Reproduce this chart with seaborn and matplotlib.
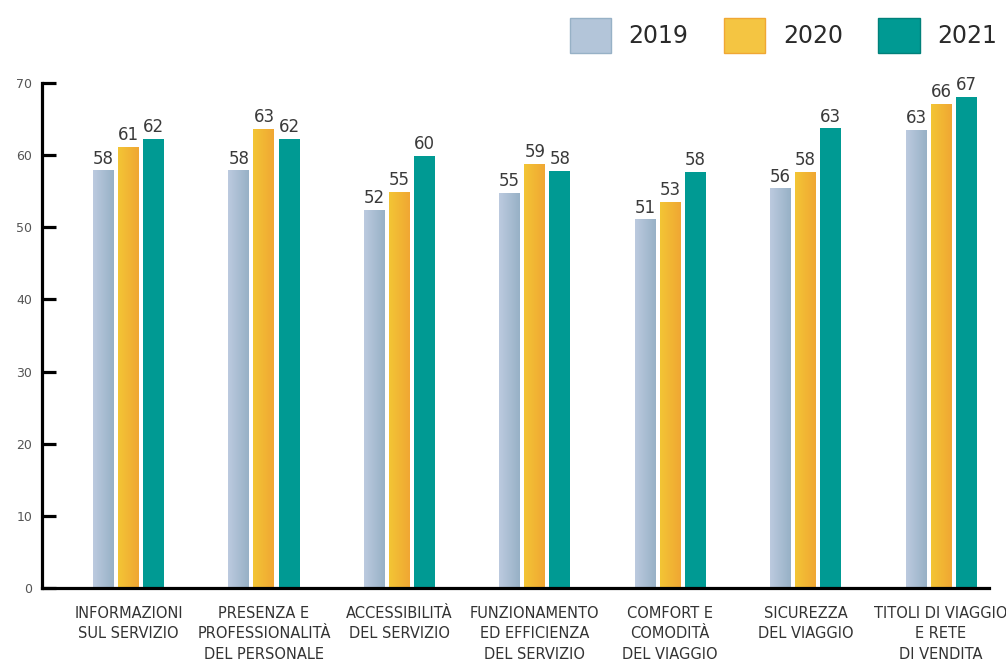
import numpy as np
import pandas as pd
import matplotlib.pyplot as plt
import seaborn as sns
from matplotlib.patches import Patch
from matplotlib.colors import LinearSegmentedColormap

categories = ["INFORMAZIONI\nSUL SERVIZIO", "PRESENZA E\nPROFESSIONALITÀ\nDEL PERSONALE",
              "ACCESSIBILITÀ\nDEL SERVIZIO", "FUNZIONAMENTO\nED EFFICIENZA\nDEL SERVIZIO",
              "COMFORT E\nCOMODITÀ\nDEL VIAGGIO", "SICUREZZA\nDEL VIAGGIO",
              "TITOLI DI VIAGGIO\nE RETE\nDI VENDITA"]
years = ["2019", "2020", "2021"]

# bar heights as drawn
values_2019 = [57.9, 57.9, 52.4, 54.8, 51.1, 55.4, 63.5]
values_2020 = [61.1, 63.6, 54.9, 58.8, 53.5, 57.7, 67.1]
values_2021 = [62.2, 62.2, 59.9, 57.8, 57.7, 63.7, 68.1]
# printed labels
labels_2019 = [58, 58, 52, 55, 51, 56, 63]
labels_2020 = [61, 63, 55, 59, 53, 58, 66]
labels_2021 = [62, 62, 60, 58, 58, 63, 67]

yticks = [0, 10, 20, 30, 40, 50, 60, 70]

df = pd.DataFrame({
    "categoria": categories * 3,
    "anno": [y for y in years for _ in categories],
    "valore": values_2019 + values_2020 + values_2021,
})

colors = {"2019": "#b3c5d9", "2020": "#f4c542", "2021": "#009a93"}
gradients = {"2019": ("#bccadf", "#97b1c6"), "2020": ("#f3c535", "#f0a733")}

sns.set_theme(style="white")
plt.rcParams['font.family'] = ['DejaVu Sans']

fig = plt.figure(figsize=(10.06, 6.61), dpi=100)
ax = fig.add_axes([42 / 1006, 1 - 588 / 661, (989 - 42) / 1006, (588 - 83) / 661])

sns.barplot(data=df, x="categoria", y="valore", hue="anno", order=categories,
            hue_order=years, palette=colors, width=0.555, gap=0.162,
            errorbar=None, legend=False, ax=ax, linewidth=0, saturation=1)

# gradient fill for 2019 and 2020 bars
for year, cont in zip(years, ax.containers):
    if year in gradients:
        cmap = LinearSegmentedColormap.from_list(year, gradients[year])
        grad = np.linspace(0, 1, 64).reshape(1, -1)
        for bar in cont:
            x0, y0 = bar.get_x(), bar.get_y()
            w, h = bar.get_width(), bar.get_height()
            im = ax.imshow(grad, cmap=cmap, aspect="auto",
                           extent=[x0, x0 + w, y0, y0 + h], zorder=bar.get_zorder())
            im.set_clip_path(bar)
            bar.set_facecolor("none")

all_labels = [labels_2019, labels_2020, labels_2021]
for cont, labs in zip(ax.containers, all_labels):
    ax.bar_label(cont, labels=[str(v) for v in labs], padding=2,
                 fontsize=12, color="#3a3a3a")

ax.set_xlim(-0.639, 6.354)
ax.set_ylim(0, 70)
ax.set_yticks(yticks)
ax.set_xlabel("")
ax.set_ylabel("")
sns.despine(ax=ax)
for s in ["left", "bottom"]:
    ax.spines[s].set_color("black")
    ax.spines[s].set_linewidth(2.3)
ax.tick_params(axis="y", direction="in", length=10, width=2.3, color="black",
               pad=7, labelsize=9, labelcolor="#555555", left=True)
ax.tick_params(axis="x", length=0, pad=13, labelsize=10.5, labelcolor="#333333")
for lab in ax.get_xticklabels():
    lab.set_family(["Liberation Sans Narrow", "DejaVu Sans"])
    lab.set_linespacing(1.45)
    lab.set_ha("center")

handles = [Patch(facecolor=colors[y], edgecolor=gradients.get(y, ("#00807a", "#00807a"))[1],
                 linewidth=1) for y in years]
fig.legend(handles, years, loc="upper right", bbox_to_anchor=(1.003, 0.99),
           ncol=3, frameon=False, fontsize=17, handlelength=1.75, handleheight=1.9,
           handletextpad=0.75, columnspacing=1.5, borderpad=0, labelcolor="#2a2a2a")

fig.savefig("out.png", dpi=100)
